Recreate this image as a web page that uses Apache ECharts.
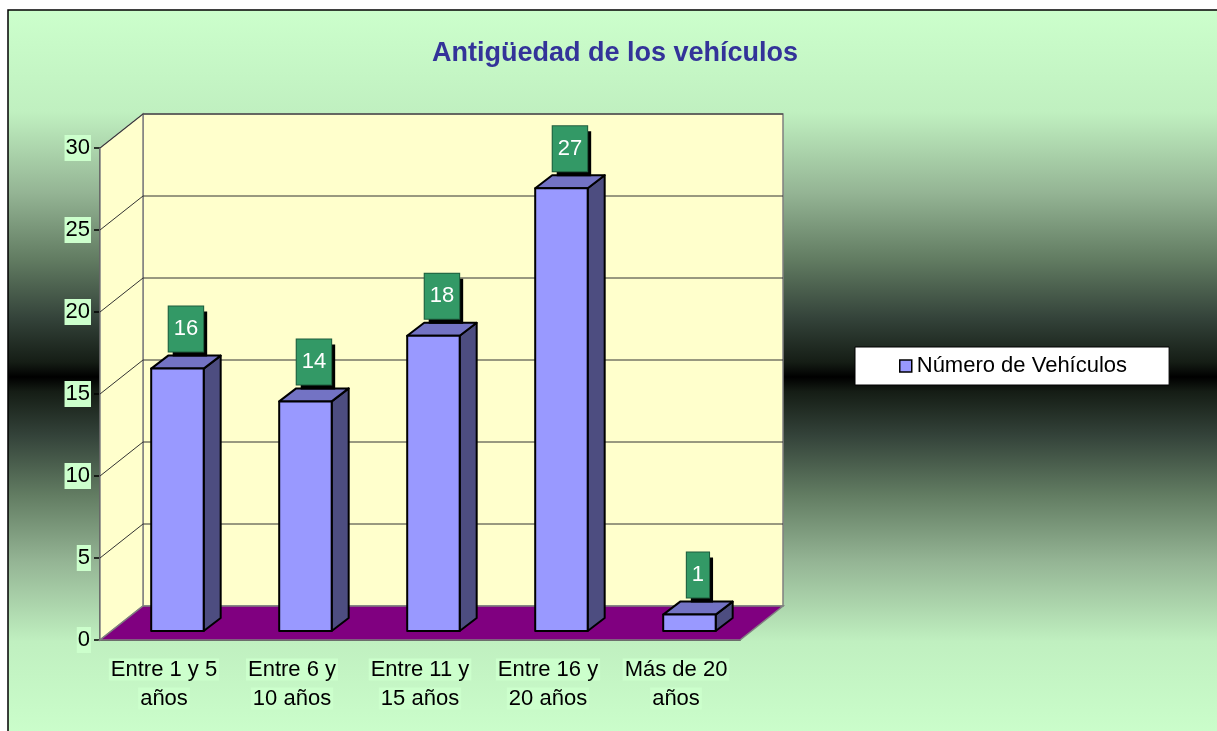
<!DOCTYPE html>
<html>
<head>
<meta charset="utf-8">
<title>Antigüedad de los vehículos</title>
<script src="https://cdn.jsdelivr.net/npm/echarts@6/dist/echarts.min.js"></script>
<style>
  html, body { margin: 0; padding: 0; background: #fff; }
  #chart { width: 1217px; height: 731px; }
</style>
</head>
<body>
<div id="chart"></div>
<script>
// datos del gráfico
var categories = ['Entre 1 y 5\naños', 'Entre 6 y\n10 años', 'Entre 11 y\n15 años', 'Entre 16 y\n20 años', 'Más de 20\naños'];
var vehicleCounts = [16, 14, 18, 27, 1];
var yTicks = [0, 5, 10, 15, 20, 25, 30];
var seriesName = 'Número de Vehículos';

var FONT = 'Liberation Sans, Arial, sans-serif';
// profundidad de las paredes y de las barras (efecto 3D)
var DX = 43, DY = -34;
var BDX = 17, BDY = -13;

var chart = echarts.init(document.getElementById('chart'));

function renderWalls(params, api) {
  if (params.dataIndex !== 0) return;
  var cs = params.coordSys;
  var x0 = cs.x, x1 = cs.x + cs.width, yt = cs.y, yb = cs.y + cs.height;
  var children = [];
  var wallStyle = { fill: '#ffffcc', stroke: '#808080', lineWidth: 1.5 };
  // pared del fondo
  children.push({ type: 'polygon', shape: { points: [[x0 + DX, yt + DY], [x1 + DX, yt + DY], [x1 + DX, yb + DY], [x0 + DX, yb + DY]] }, style: wallStyle });
  // pared lateral
  children.push({ type: 'polygon', shape: { points: [[x0, yt], [x0 + DX, yt + DY], [x0 + DX, yb + DY], [x0, yb]] }, style: wallStyle });
  // suelo
  children.push({ type: 'polygon', shape: { points: [[x0, yb], [x1, yb], [x1 + DX, yb + DY], [x0 + DX, yb + DY]] }, style: { fill: '#800080', stroke: '#808080', lineWidth: 1.5 } });
  yTicks.forEach(function (v) {
    if (v === 0) return;
    var y = api.coord([0, v])[1];
    children.push({ type: 'line', shape: { x1: x0 + DX, y1: y + DY, x2: x1 + DX, y2: y + DY }, style: { stroke: '#333', lineWidth: 1 } });
    children.push({ type: 'line', shape: { x1: x0, y1: y, x2: x0 + DX, y2: y + DY }, style: { stroke: '#333', lineWidth: 1 } });
  });
  return { type: 'group', children: children };
}

function renderBar(params, api) {
  var idx = api.value(0);
  var val = api.value(1);
  var p = api.coord([idx, val]);
  var base = api.coord([idx, 0]);
  var band = api.size([1, 0])[0];
  var L = p[0] - band * 0.1;
  var R = L + band * 0.41;
  var top = p[1] - 9;
  var bottom = base[1] - 9;
  var edge = { stroke: '#000', lineWidth: 2, lineJoin: 'round' };
  var cx = (L + R) / 2 + BDX / 2;
  var ly = top + BDY - 4;
  var txt = String(val);
  return {
    type: 'group',
    children: [
      { type: 'polygon', shape: { points: [[R, top], [R + BDX, top + BDY], [R + BDX, bottom + BDY], [R, bottom]] }, style: Object.assign({ fill: '#4d4d80' }, edge) },
      { type: 'polygon', shape: { points: [[L, top], [R, top], [R + BDX, top + BDY], [L + BDX, top + BDY]] }, style: Object.assign({ fill: '#7373c4' }, edge) },
      { type: 'polygon', shape: { points: [[L, top], [R, top], [R, bottom], [L, bottom]] }, style: Object.assign({ fill: '#9999ff' }, edge) },
      { type: 'text', style: { text: txt, x: cx + 4, y: ly + 5, align: 'center', verticalAlign: 'bottom', fill: '#000', backgroundColor: '#000', padding: [10, 5], lineHeight: 25, font: '22px ' + FONT } },
      { type: 'text', style: { text: txt, x: cx, y: ly, align: 'center', verticalAlign: 'bottom', fill: '#fff', backgroundColor: '#339966', borderColor: '#1f5c3d', borderWidth: 1, padding: [10, 5], lineHeight: 25, font: '22px ' + FONT } }
    ]
  };
}

var option = {
  animation: false,
  graphic: [{
    type: 'rect', z: -10, silent: true,
    shape: { x: 8, y: 10, width: 1225, height: 734 },
    style: {
      stroke: '#000', lineWidth: 1.5,
      fill: {
        type: 'linear', x: 0, y: 0, x2: 0, y2: 1,
        colorStops: [
          { offset: 0, color: '#ccffcc' },
          { offset: 0.14, color: '#c0f0c0' },
          { offset: 0.25, color: '#94b494' },
          { offset: 0.34, color: '#627c62' },
          { offset: 0.42, color: '#34433a' },
          { offset: 0.48, color: '#151d15' },
          { offset: 0.5, color: '#000000' },
          { offset: 0.52, color: '#151d15' },
          { offset: 0.58, color: '#34433a' },
          { offset: 0.66, color: '#627c62' },
          { offset: 0.75, color: '#94b494' },
          { offset: 0.86, color: '#c0f0c0' },
          { offset: 1, color: '#ccffcc' }
        ]
      }
    }
  }],
  title: {
    text: 'Antigüedad de los vehículos',
    left: 615, top: 40, padding: 0, textAlign: 'center',
    textStyle: { fontFamily: FONT, fontSize: 27, fontWeight: 'bold', color: '#333399' }
  },
  legend: {
    left: 855, top: 347,
    backgroundColor: '#fff', borderColor: '#000', borderWidth: 1,
    padding: [8, 42, 8, 44],
    itemWidth: 12, itemHeight: 12, itemGap: 5,
    textStyle: { fontFamily: FONT, fontSize: 22, color: '#000' },
    data: [{ name: seriesName, icon: 'rect', itemStyle: { color: '#9999ff', borderColor: '#000', borderWidth: 1.5 } }]
  },
  grid: { left: 100, top: 148, width: 640, height: 492 },
  xAxis: {
    type: 'category',
    data: categories,
    axisLine: { lineStyle: { color: '#000', width: 1.5 } },
    axisTick: { length: 6, lineStyle: { color: '#000', width: 1.5 } },
    axisLabel: {
      interval: 0, margin: 15,
      formatter: function (s) {
        return s.split('\n').map(function (t) { return '{a|' + t + '}'; }).join('\n');
      },
      rich: { a: { fontFamily: FONT, fontSize: 22, lineHeight: 29, color: '#000', backgroundColor: '#ccffcc', padding: [0, 2] } }
    },
    splitLine: { show: false }
  },
  yAxis: {
    type: 'value', min: 0, max: 30, interval: 5,
    axisLine: { show: true, lineStyle: { color: '#000', width: 1.5 } },
    axisTick: { show: true, length: 6, lineStyle: { color: '#000', width: 1.5 } },
    axisLabel: { margin: 9, fontFamily: FONT, fontSize: 22, color: '#000', backgroundColor: '#ccffcc', padding: [2, 1] },
    splitLine: { show: false }
  },
  series: [
    {
      type: 'custom', name: 'walls', silent: true, z: 1,
      renderItem: renderWalls,
      data: [[0, 0]]
    },
    {
      type: 'custom', name: seriesName, z: 3,
      itemStyle: { color: '#9999ff' },
      renderItem: renderBar,
      encode: { x: 0, y: 1 },
      data: vehicleCounts.map(function (v, i) { return [i, v]; })
    }
  ]
};

chart.setOption(option);
</script>
</body>
</html>
